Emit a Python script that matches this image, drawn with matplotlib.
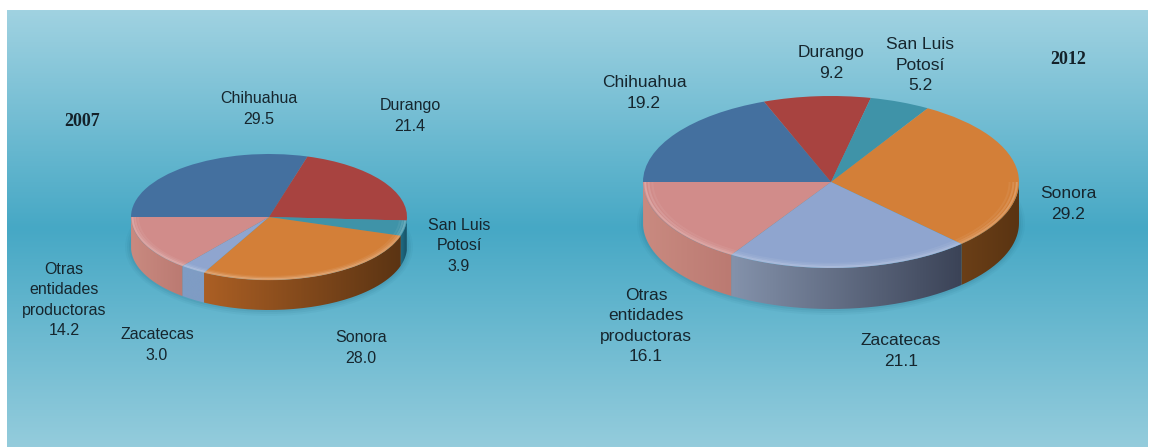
import matplotlib
matplotlib.use("Agg")
import matplotlib.pyplot as plt
import numpy as np
from matplotlib.colors import LinearSegmentedColormap
from matplotlib.patches import Ellipse, PathPatch
from matplotlib.path import Path

W, H = 1154, 447

names = ["Chihuahua", "Durango", "San Luis\nPotosí", "Sonora", "Zacatecas",
         "Otras\nentidades\nproductoras"]
values_2007 = [29.5, 21.4, 3.9, 28.0, 3.0, 14.2]
values_2012 = [19.2, 9.2, 5.2, 29.2, 21.1, 16.1]

top_colors = ["#44709f", "#a84340", "#3f93a8", "#d37f38", "#8fa5cf", "#d18c8a"]

# wall colours, left and right end of the gradient
walls_2007 = [None, None, ("#1f6a82", "#174e62"), ("#ab5f24", "#5b3413"),
              ("#7f9cc4", "#7f9cc4"), ("#c98a80", "#bb7a72")]
walls_2012 = [None, None, None, ("#6b3f17", "#5a3412"),
              ("#8492ab", "#3b4357"), ("#c98a80", "#bb7a72")]

# pixel centres of the labels
label_pos_2007 = [(259, 109), (410, 116), (459, 246), (361, 348), (157, 345), (64, 300)]
label_pos_2012 = [(644, 93), (831, 63), (920, 65), (1068, 204), (901, 351), (646, 326)]

plt.rcParams["font.family"] = ["Liberation Sans", "DejaVu Sans"]


def add_background(fig):
    ax = fig.add_axes([0, 0, 1, 1])
    ax.axis("off")
    cmap = LinearSegmentedColormap.from_list(
        "panel", [(0, "#a0d2e1"), (0.5, "#46a8c5"), (1, "#94ccdc")])
    grad = np.linspace(0, 1, 256).reshape(-1, 1)
    ax.imshow(grad, cmap=cmap, aspect="auto", extent=(7, 1148, H, 10))
    ax.set_xlim(0, W)
    ax.set_ylim(H, 0)
    return ax


def draw_pie(fig, bg, values, walls, cx, cy, rx, ry, depth):
    # soft shadow under the pie
    for grow, alpha in [(12, 0.05), (8, 0.07), (4, 0.09)]:
        bg.add_patch(Ellipse((cx, cy + depth), 2 * rx + grow, 2 * ry + grow,
                             color="#1c5f78", alpha=alpha, lw=0))

    d = depth / ry
    ax = fig.add_axes([(cx - rx) / W, (H - cy - ry - depth) / H,
                       2 * rx / W, (2 * ry + depth) / H])
    ax.pie(values, colors=top_colors, startangle=180, counterclock=False,
           radius=1, wedgeprops={"lw": 0, "zorder": 5})

    edges = 180 - 3.6 * np.concatenate([[0], np.cumsum(values)])
    for i, wall in enumerate(walls):
        if wall is None:
            continue
        # only the front of the wall shows
        lo, hi = max(edges[i + 1], -180), min(edges[i], 0)
        t = np.radians(np.linspace(hi, lo, 80))
        x, y = np.cos(t), np.sin(t)
        px = np.concatenate([x, x[::-1]])
        py = np.concatenate([y, y[::-1] - d])
        patch = PathPatch(Path(np.column_stack([px, py])), fc="none", lw=0)
        ax.add_patch(patch)
        cmap = LinearSegmentedColormap.from_list("w", list(wall))
        im = ax.imshow(np.linspace(0, 1, 128).reshape(1, -1), cmap=cmap, aspect="auto",
                       extent=(x.min(), x.max(), -1 - d, 1), zorder=3)
        im.set_clip_path(patch)
        # soft bevel on the edge of the top, fading inwards
        for off, alpha in [(0.012, 0.22), (0.03, 0.12), (0.05, 0.06)]:
            ax.plot(x * (1 - off), y * (1 - off), color="white", alpha=alpha, lw=1.4,
                    zorder=6, solid_capstyle="butt")
    ax.set_aspect("auto")
    ax.set_xlim(-1, 1)
    ax.set_ylim(-1 - d, 1)
    ax.patch.set_alpha(0)


def add_labels(fig, values, positions, size):
    for name, value, (x, y) in zip(names, values, positions):
        fig.text(x / W, 1 - y / H, f"{name}\n{value:.1f}", ha="center", va="center",
                 fontsize=size, color="#16262e", linespacing=1.42)


def main():
    fig = plt.figure(figsize=(W / 100, H / 100), dpi=100)
    bg = add_background(fig)

    draw_pie(fig, bg, values_2007, walls_2007, 269, 217, 138, 63, 30)
    draw_pie(fig, bg, values_2012, walls_2012, 831, 182, 188, 86, 41)

    add_labels(fig, values_2007, label_pos_2007, 11.5)
    add_labels(fig, values_2012, label_pos_2012, 12.5)

    for year, x, y in [("2007", 82, 122), ("2012", 1068, 60)]:
        fig.text(x / W, 1 - y / H, year, ha="center", va="center", fontsize=13,
                 fontweight="bold", family="Liberation Serif", color="#14222a")

    fig.savefig("out.png", dpi=100)


if __name__ == "__main__":
    main()
